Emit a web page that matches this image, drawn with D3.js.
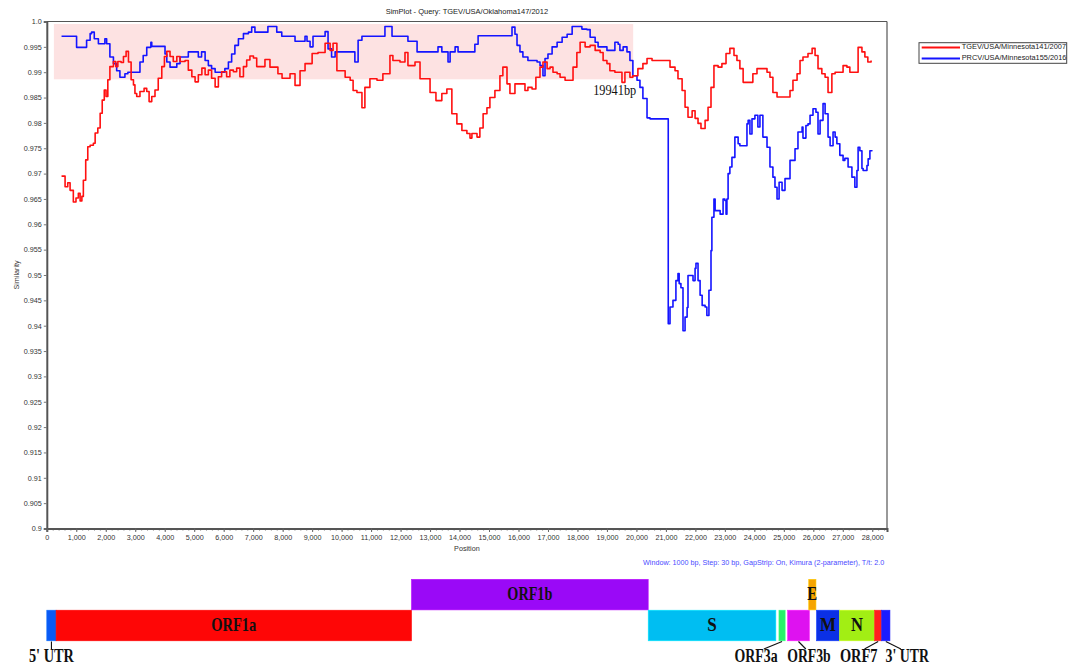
<!DOCTYPE html>
<html><head><meta charset="utf-8">
<script src="https://cdn.jsdelivr.net/npm/d3@7/dist/d3.min.js"></script>
<style>body{margin:0;background:#fff}svg{display:block}</style>
</head><body><svg id="c" width="1078" height="665"></svg>
<script>
// ---------------- data ----------------
const chartTitle = "SimPlot - Query: TGEV/USA/Oklahoma147/2012";
const seriesNames = ["TGEV/USA/Minnesota141/2007", "PRCV/USA/Minnesota155/2016"];
const seriesColors = ["#ff1010", "#1414ff"];

const redPos = [500,620,710,790,900,990,1070,1130,1190,1240,1320,1390,1470,1580,1640,1730,1810,1880,1950,2010,2070,2140,2260,2340,2410,2520,2600,2690,2770,2860,2940,2990,3050,3160,3300,3390,3470,3560,3670,3780,3900,3990,4070,4180,4290,4410,4520,4690,4800,4920,5030,5140,5260,5370,5480,5590,5710,5820,5930,6100,6210,6330,6440,6550,6670,6780,6890,7010,7120,7400,7570,7840,7980,8250,8420,8590,8760,9000,9200,9440,9610,9710,9840,10120,10290,10390,10520,10690,10790,10960,11200,11400,11640,11740,11980,12150,12250,12490,12660,12830,13000,13200,13400,13570,13740,13910,14080,14250,14355,14420,14593,14690,14800,14930,15030,15200,15370,15470,15610,15710,15880,16050,16220,16320,16460,16590,16730,16830,16970,17070,17170,17310,17410,17580,17750,17850,17980,18090,18260,18430,18600,18770,18870,19000,19100,19270,19440,19510,19610,19780,19880,20050,20220,20360,20530,21070,21140,21310,21410,21550,21650,21750,21890,21990,22090,22190,22330,22430,22530,22630,22770,22900,23040,23170,23310,23410,23510,23620,23850,23950,24090,24290,24430,24530,24630,24770,25040,25210,25310,25450,25550,25650,25820,25960,26060,26160,26290,26400,26500,26630,26740,26900,27010,27140,27240,27410,27520,27650,27750,27850,27960];
const redVal = [0.9695,0.9674,0.9682,0.9667,0.9644,0.9652,0.9661,0.9646,0.9655,0.9687,0.9727,0.9753,0.9756,0.9760,0.9780,0.9790,0.9819,0.9845,0.9865,0.9852,0.9885,0.9911,0.9921,0.9911,0.9921,0.9919,0.9931,0.9941,0.9920,0.9885,0.9875,0.9858,0.9852,0.9862,0.9868,0.9862,0.9842,0.9852,0.9865,0.9888,0.9911,0.9931,0.9941,0.9931,0.9921,0.9931,0.9921,0.9923,0.9904,0.9891,0.9881,0.9895,0.9908,0.9895,0.9904,0.9888,0.9871,0.9891,0.9901,0.9891,0.9904,0.9901,0.9908,0.9891,0.9911,0.9924,0.9932,0.9928,0.9911,0.9925,0.9910,0.9897,0.9888,0.9897,0.9874,0.9903,0.9917,0.9937,0.9939,0.9957,0.9943,0.9957,0.9903,0.9890,0.9884,0.9864,0.9860,0.9830,0.9870,0.9887,0.9884,0.9897,0.9933,0.9923,0.9920,0.9939,0.9913,0.9920,0.9887,0.9887,0.9860,0.9844,0.9858,0.9867,0.9818,0.9798,0.9785,0.9779,0.9770,0.9779,0.9772,0.9790,0.9818,0.9830,0.9850,0.9864,0.9893,0.9910,0.9877,0.9858,0.9877,0.9877,0.9864,0.9870,0.9867,0.9890,0.9910,0.9920,0.9907,0.9910,0.9900,0.9897,0.9890,0.9884,0.9884,0.9910,0.9939,0.9959,0.9950,0.9953,0.9943,0.9939,0.9923,0.9917,0.9903,0.9900,0.9900,0.9880,0.9900,0.9890,0.9893,0.9907,0.9917,0.9927,0.9923,0.9923,0.9910,0.9903,0.9887,0.9864,0.9831,0.9811,0.9824,0.9809,0.9799,0.9789,0.9805,0.9831,0.9870,0.9913,0.9910,0.9917,0.9937,0.9947,0.9933,0.9923,0.9907,0.9880,0.9880,0.9897,0.9907,0.9907,0.9900,0.9890,0.9860,0.9851,0.9851,0.9864,0.9884,0.9897,0.9923,0.9930,0.9937,0.9947,0.9933,0.9907,0.9897,0.9890,0.9860,0.9897,0.9900,0.9900,0.9913,0.9910,0.9900,0.9900,0.9949,0.9940,0.9930,0.9920,0.9923];

const bluePos = [500,960,1010,1300,1350,1470,1520,1610,1750,1940,1970,2030,2140,2260,2370,2480,2650,2750,3060,3160,3270,3390,3530,3560,3940,4010,4070,4180,4280,4410,4520,4690,4800,5030,5140,5250,5370,5480,5590,5710,5930,6040,6160,6270,6380,6500,6670,6840,6950,7060,7400,7500,7670,7800,7970,8350,8420,8690,8759,8826,8930,9030,9370,9440,9540,9660,9780,10390,10450,10560,10690,11370,11470,11640,11710,12150,12250,12420,12560,13240,13270,13400,13610,13680,13850,13950,14290,14355,14520,14630,15640,15780,15880,15950,16050,16150,16320,16630,16730,16830,16900,17000,17140,17310,17480,17650,17820,18090,18150,18320,18430,18600,18700,18870,19000,19100,19270,19380,19440,19550,19680,19780,19880,20020,20120,20220,20360,20460,21070,21080,21140,21240,21340,21410,21450,21510,21580,21650,21720,21750,21890,21920,21990,22020,22090,22160,22230,22330,22390,22460,22530,22560,22630,22670,22840,22940,23000,23040,23070,23110,23170,23240,23340,23450,23510,23620,23750,23790,23850,23920,24020,24120,24190,24290,24430,24530,24630,24700,24770,24840,24940,25040,25140,25210,25280,25380,25480,25620,25650,25750,25820,25890,25990,26090,26160,26230,26330,26400,26500,26570,26670,26740,26800,26900,27010,27070,27180,27310,27410,27480,27520,27580,27650,27690,27820,27860,27920,27990];
const blueVal = [0.9971,0.9971,0.9949,0.9949,0.9963,0.9976,0.9979,0.9966,0.9956,0.9956,0.9966,0.9956,0.9930,0.9917,0.9903,0.9890,0.9897,0.9900,0.9900,0.9920,0.9933,0.9949,0.9959,0.9951,0.9951,0.9936,0.9920,0.9910,0.9910,0.9917,0.9930,0.9930,0.9940,0.9940,0.9930,0.9940,0.9923,0.9913,0.9907,0.9900,0.9900,0.9907,0.9920,0.9936,0.9953,0.9966,0.9976,0.9979,0.9989,0.9979,0.9979,0.9990,0.9990,0.9979,0.9971,0.9971,0.9961,0.9961,0.9971,0.9961,0.9950,0.9971,0.9971,0.9980,0.9946,0.9930,0.9940,0.9940,0.9920,0.9963,0.9971,0.9971,0.9990,0.9990,0.9971,0.9971,0.9961,0.9961,0.9940,0.9940,0.9950,0.9940,0.9920,0.9940,0.9950,0.9940,0.9940,0.9940,0.9955,0.9972,0.9972,0.9989,0.9975,0.9953,0.9940,0.9930,0.9923,0.9920,0.9913,0.9893,0.9927,0.9936,0.9950,0.9959,0.9969,0.9975,0.9990,0.9990,0.9985,0.9984,0.9969,0.9959,0.9950,0.9950,0.9943,0.9943,0.9959,0.9955,0.9943,0.9950,0.9940,0.9923,0.9893,0.9884,0.9870,0.9848,0.9810,0.9808,0.9808,0.9404,0.9437,0.9450,0.9489,0.9503,0.9483,0.9475,0.9390,0.9417,0.9436,0.9499,0.9499,0.9489,0.9513,0.9523,0.9489,0.9460,0.9440,0.9437,0.9420,0.9470,0.9548,0.9614,0.9650,0.9627,0.9620,0.9650,0.9647,0.9620,0.9650,0.9700,0.9713,0.9732,0.9772,0.9759,0.9755,0.9755,0.9798,0.9805,0.9778,0.9808,0.9815,0.9792,0.9815,0.9772,0.9752,0.9713,0.9693,0.9673,0.9650,0.9683,0.9667,0.9690,0.9690,0.9726,0.9726,0.9749,0.9782,0.9792,0.9770,0.9795,0.9798,0.9815,0.9828,0.9821,0.9778,0.9805,0.9838,0.9818,0.9772,0.9755,0.9782,0.9772,0.9759,0.9736,0.9726,0.9730,0.9713,0.9693,0.9673,0.9706,0.9752,0.9745,0.9710,0.9706,0.9716,0.9729,0.9745,0.9746];

const xTickValues = d3.range(0, 28001, 1000);
const yTickValues = [0.9,0.905,0.91,0.915,0.92,0.925,0.93,0.935,0.94,0.945,0.95,0.955,0.96,0.965,0.97,0.975,0.98,0.985,0.99,0.995,1.0];
const yTickLabels = ["0.9","0.905","0.91","0.915","0.92","0.925","0.93","0.935","0.94","0.945","0.95","0.955","0.96","0.965","0.97","0.975","0.98","0.985","0.99","0.995","1.0"];
const highlightPos = [240, 19890];
const highlightVal = [0.9886, 0.9995];
const breakpointLabel = "19941bp";
const breakpointPos = 19941;
const footnote = "Window: 1000 bp, Step: 30 bp, GapStrip: On, Kimura (2-parameter), T/t: 2.0";

const geneNames = ["5' UTR","ORF1a","ORF1b","S","ORF3a","ORF3b","E","M","N","ORF7","3' UTR"];
const geneStart = [0,315,12370,20400,24835,25130,25845,26110,26890,28080,28320];
const geneEnd   = [315,12370,20400,24730,25045,25865,26090,26890,28080,28320,28600];
const geneRow   = [1,1,0,1,1,1,0,1,1,1,1];
const geneColors = ["#0a5af5","#fe0606","#9a09f7","#00bef2","#28f06a","#de12f0","#f5a400","#0b30e6","#a2ee14","#ff1f1f","#1a1cff"];

// ---------------- layout ----------------
const svg = d3.select("#c");
const x = d3.scaleLinear().domain([0, 28500]).range([46.8, 887]);
const y = d3.scaleLinear().domain([0.9, 1.0]).range([528.5, 21.5]);
const sans = "'Liberation Sans', Arial, sans-serif";
const serif = "'Liberation Serif', 'Times New Roman', serif";

// highlight band
svg.append("rect")
  .attr("x", x(highlightPos[0])).attr("width", x(highlightPos[1]) - x(highlightPos[0]))
  .attr("y", y(highlightVal[1])).attr("height", y(highlightVal[0]) - y(highlightVal[1]))
  .attr("fill", "#fde2e2");

// title
svg.append("text").attr("x", (x.range()[0] + x.range()[1]) / 2).attr("y", 11.7)
  .attr("text-anchor", "middle").attr("dominant-baseline", "middle")
  .attr("font-family", sans).attr("font-size", 7.5).attr("fill", "#222").text(chartTitle);

// frame top/right
svg.append("line").attr("x1", x.range()[0]).attr("x2", x.range()[1]).attr("y1", y(1)).attr("y2", y(1))
  .attr("stroke", "#555").attr("stroke-width", 1.2);
svg.append("line").attr("x1", x.range()[1]).attr("x2", x.range()[1]).attr("y1", y(1)).attr("y2", y(0.9))
  .attr("stroke", "#555").attr("stroke-width", 1.2);

// y axis
const yAxis = d3.axisLeft(y).tickValues(yTickValues).tickSize(3).tickPadding(2)
  .tickFormat((d, i) => yTickLabels[i]);
const gy = svg.append("g").attr("transform", `translate(${x.range()[0]},0)`).call(yAxis);
gy.select(".domain").attr("stroke", "#555").attr("stroke-width", 2);
gy.selectAll(".tick line").attr("stroke", "#777");
gy.selectAll(".tick text").attr("font-family", sans).attr("font-size", 7.2).attr("fill", "#333");

// x axis minor ticks
const gxm = svg.append("g").attr("transform", `translate(0,${y(0.9)})`)
  .call(d3.axisBottom(x).tickValues(d3.range(0, 28401, 200)).tickSize(2).tickFormat(""));
gxm.select(".domain").remove();
gxm.selectAll(".tick line").attr("stroke", "#777");
// x axis major
const gx = svg.append("g").attr("transform", `translate(0,${y(0.9)})`)
  .call(d3.axisBottom(x).tickValues(xTickValues).tickSize(3.5).tickPadding(3).tickFormat(d3.format(",")));
gx.select(".domain").attr("stroke", "#555").attr("stroke-width", 2);
gx.selectAll(".tick line").attr("stroke", "#666");
gx.selectAll(".tick text").attr("font-family", sans).attr("font-size", 7.2).attr("fill", "#333");

// axis titles
svg.append("text").attr("x", (x.range()[0] + x.range()[1]) / 2).attr("y", 549.2)
  .attr("text-anchor", "middle").attr("dominant-baseline", "middle")
  .attr("font-family", sans).attr("font-size", 7.2).attr("fill", "#333").text("Position");
svg.append("text").attr("transform", `translate(16.7,${(y(0.9) + y(1)) / 2}) rotate(-90)`)
  .attr("text-anchor", "middle").attr("dominant-baseline", "middle")
  .attr("font-family", sans).attr("font-size", 7.2).attr("fill", "#333").text("Similarity");

// footnote
svg.append("text").attr("x", 884.2).attr("y", 562.8).attr("text-anchor", "end")
  .attr("dominant-baseline", "middle").attr("font-family", sans).attr("font-size", 7.2)
  .attr("fill", "#4a4aff").text(footnote);

// lines
const line = d3.line().curve(d3.curveStepAfter).x(d => x(d[0])).y(d => y(d[1]));
const series = [d3.zip(redPos, redVal), d3.zip(bluePos, blueVal)];
[1, 0].forEach(i => {
  svg.append("path").datum(series[i]).attr("d", line).attr("fill", "none")
    .attr("stroke", seriesColors[i]).attr("stroke-width", 1.6).attr("stroke-linejoin", "round");
});

// breakpoint label
svg.append("text").attr("x", x(breakpointPos) - 41.5).attr("y", 95)
  .attr("font-family", serif).attr("font-size", 14).attr("fill", "#111")
  .attr("textLength", 43).attr("lengthAdjust", "spacingAndGlyphs").text(breakpointLabel);

// legend
const lg = svg.append("g");
lg.append("rect").attr("x", 919).attr("y", 42.7).attr("width", 147.7).attr("height", 20.6)
  .attr("fill", "#fff").attr("stroke", "#444").attr("stroke-width", 1);
seriesNames.forEach((n, i) => {
  const yy = 47.5 + i * 11;
  lg.append("line").attr("x1", 921.7).attr("x2", 960).attr("y1", yy).attr("y2", yy)
    .attr("stroke", seriesColors[i]).attr("stroke-width", 1.8);
  lg.append("text").attr("x", 961.7).attr("y", yy).attr("dominant-baseline", "middle")
    .attr("font-family", sans).attr("font-size", 7.4).attr("fill", "#222").text(n);
});

// genome map
const rowTop = [579.3, 610.2];
const rowH = 30.6;
const genes = geneNames.map((n, i) => ({name: n, s: geneStart[i], e: geneEnd[i], row: geneRow[i], color: geneColors[i]}));
svg.append("g").selectAll("rect").data(genes).join("rect")
  .attr("x", d => x(d.s)).attr("width", d => x(d.e) - x(d.s))
  .attr("y", d => rowTop[d.row]).attr("height", rowH)
  .attr("fill", d => d.color).attr("stroke", d => d3.color(d.color).brighter(0.6)).attr("stroke-width", 0.6);

// inside labels
const insideW = {"ORF1a": 45, "ORF1b": 45, "S": 9.5, "E": 10, "M": 16, "N": 12};
genes.filter(d => insideW[d.name] !== undefined).forEach(d => {
  svg.append("text").attr("x", (x(d.s) + x(d.e)) / 2 - insideW[d.name] / 2)
    .attr("y", rowTop[d.row] + 21)
    .attr("font-family", serif).attr("font-weight", "bold").attr("font-size", 19).attr("fill", "#111")
    .attr("textLength", insideW[d.name]).attr("lengthAdjust", "spacingAndGlyphs").text(d.name);
});
// outside labels with leader lines
const outside = {"5' UTR": [0, 45], "ORF3a": [-26, 43], "ORF3b": [10.5, 43.5], "ORF7": [-19.5, 37.5], "3' UTR": [21.5, 43.5]};
genes.filter(d => outside[d.name] !== undefined).forEach(d => {
  const cx = (x(d.s) + x(d.e)) / 2;
  const [off, w] = outside[d.name];
  const lx = cx + off;
  svg.append("line").attr("x1", cx).attr("y1", 641.5).attr("x2", d.name === "5' UTR" ? cx : cx + off * 0.7).attr("y2", 649)
    .attr("stroke", "#111").attr("stroke-width", 1.1);
  svg.append("text").attr("x", lx - w / 2).attr("y", 661.5)
    .attr("font-family", serif).attr("font-weight", "bold").attr("font-size", 18).attr("fill", "#111")
    .attr("textLength", w).attr("lengthAdjust", "spacingAndGlyphs").text(d.name);
});
</script>
</body></html>
